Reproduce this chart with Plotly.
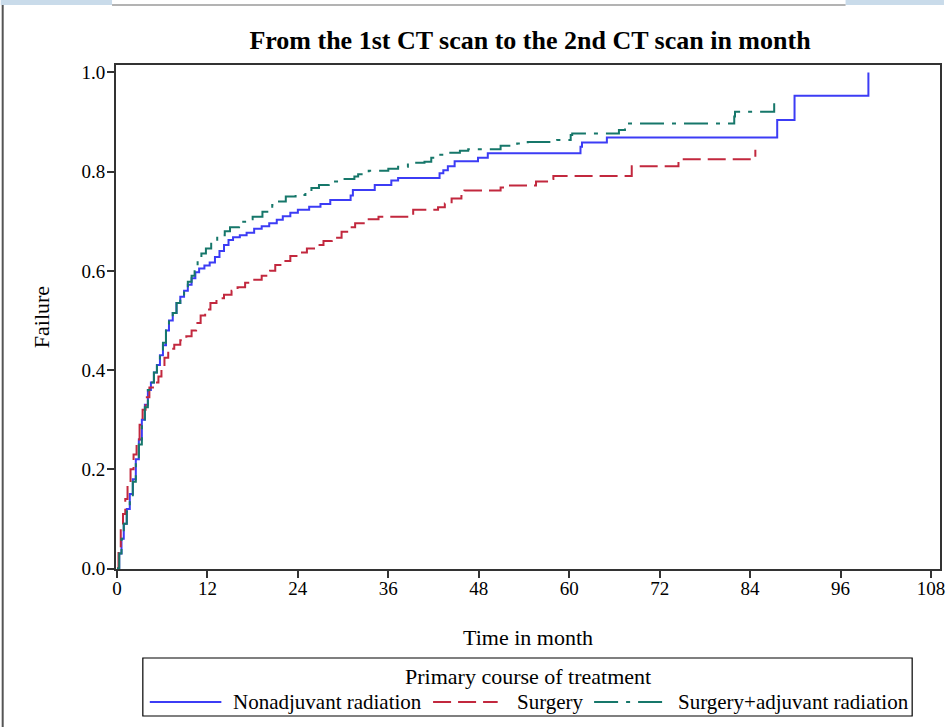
import plotly.graph_objects as go

# ---------------- data ----------------
nonadj_t = [0, 0.3, 0.6, 0.9, 1.3, 1.7, 2.1, 2.5, 2.9, 3.3, 3.7, 4.1, 4.5, 4.9, 5.3, 5.7,
            6.1, 6.5, 6.9, 7.4, 7.9, 8.4, 8.9, 9.4, 9.9, 10.4, 10.9, 11.6, 12.3, 13.0,
            13.6, 14.2, 14.8, 15.4, 16.3, 17.2, 18.2, 19.2, 20.2, 21.2, 22.0, 23.0, 24.0,
            25.5, 27.0, 28.3, 31.0, 31.3, 34.2, 36.4, 37.3, 42.8, 43.3, 43.9, 44.8, 47.9,
            49.2, 61.5, 61.7, 65.0, 87.6, 89.9, 99.7]
nonadj_f = [0, 0.03, 0.06, 0.09, 0.12, 0.15, 0.18, 0.22, 0.26, 0.30, 0.33, 0.36, 0.375,
            0.395, 0.41, 0.43, 0.45, 0.48, 0.50, 0.515, 0.535, 0.548, 0.56, 0.572, 0.585,
            0.597, 0.605, 0.611, 0.617, 0.628, 0.640, 0.652, 0.662, 0.668, 0.672, 0.677,
            0.685, 0.690, 0.696, 0.703, 0.710, 0.717, 0.723, 0.729, 0.735, 0.743, 0.752,
            0.763, 0.773, 0.782, 0.787, 0.797, 0.803, 0.811, 0.821, 0.828, 0.837, 0.850,
            0.859, 0.869, 0.904, 0.953, 1.0]

surg_t = [0, 0.2, 0.5, 0.8, 1.1, 1.4, 1.8, 2.2, 2.6, 3.0, 3.4, 3.8, 4.3, 5.0, 5.5, 5.9,
          6.3, 6.8, 7.6, 8.4, 9.2, 9.9, 10.5, 11.1, 11.7, 12.4, 13.2, 14.2, 15.2, 16.0,
          17.0, 18.0, 19.2, 20.3, 21.0, 22.0, 23.0, 24.0, 25.2, 26.3, 27.4, 28.5, 29.8,
          31.0, 31.6, 33.4, 34.7, 39.3, 42.6, 43.5, 44.4, 45.7, 46.1, 50.9, 52.0, 55.6,
          57.3, 57.9, 68.3, 74.5, 84.7]
surg_f = [0, 0.04, 0.08, 0.11, 0.14, 0.17, 0.20, 0.23, 0.26, 0.29, 0.32, 0.345, 0.365,
          0.375, 0.387, 0.405, 0.425, 0.443, 0.451, 0.460, 0.468, 0.480, 0.495, 0.510,
          0.522, 0.535, 0.545, 0.552, 0.560, 0.567, 0.576, 0.582, 0.590, 0.600, 0.612,
          0.620, 0.630, 0.637, 0.645, 0.652, 0.660, 0.667, 0.679, 0.688, 0.696, 0.704,
          0.709, 0.723, 0.728, 0.736, 0.746, 0.751, 0.762, 0.768, 0.772, 0.780, 0.785,
          0.791, 0.811, 0.825, 0.844]

surgadj_t = [0, 0.3, 0.6, 0.9, 1.3, 1.7, 2.1, 2.5, 2.9, 3.3, 3.7, 4.1, 4.5, 4.9, 5.3, 5.7,
             6.1, 6.5, 6.9, 7.4, 7.9, 8.4, 8.9, 9.4, 9.9, 10.3, 10.7, 11.2, 11.8, 12.5,
             13.3, 14.3, 15.0, 16.2, 17.0, 18.0, 19.3, 20.6, 21.5, 22.4, 23.7, 25.0, 25.8,
             26.8, 28.1, 30.0, 31.5, 32.0, 33.4, 36.0, 37.3, 38.6, 40.8, 41.7, 42.1, 43.5,
             45.5, 46.6, 50.9, 53.1, 54.5, 58.4, 60.2, 60.4, 66.6, 67.4, 81.9, 82.0, 87.2]
surgadj_f = [0, 0.03, 0.06, 0.09, 0.115, 0.145, 0.175, 0.21, 0.25, 0.29, 0.325, 0.36,
             0.375, 0.395, 0.415, 0.43, 0.455, 0.48, 0.50, 0.515, 0.535, 0.55, 0.565,
             0.578, 0.59, 0.607, 0.622, 0.635, 0.645, 0.660, 0.672, 0.680, 0.688, 0.699,
             0.704, 0.709, 0.719, 0.733, 0.740, 0.750, 0.753, 0.760, 0.767, 0.773, 0.780,
             0.785, 0.790, 0.795, 0.802, 0.806, 0.810, 0.818, 0.820, 0.828, 0.834, 0.838,
             0.842, 0.845, 0.852, 0.857, 0.860, 0.864, 0.874, 0.877, 0.884, 0.897, 0.911,
             0.921, 0.938]

series_names = ["Nonadjuvant radiation", "Surgery", "Surgery+adjuvant radiation"]
series_colors = ["#3C3CF5", "#C2283E", "#16776A"]
series_dash = ["solid", "18px,7px", "24px,8px,4px,8px"]
x_ticks = [0, 12, 24, 36, 48, 60, 72, 84, 96, 108]
y_ticks = [0.0, 0.2, 0.4, 0.6, 0.8, 1.0]

# ---------------- layout geometry (pixels) ----------------
W, H = 949, 727
L, R, T, B = 116, 945, 65, 569   # plot box edges


def px(x):
    return (x - L) / (R - L)


def py(y):
    return (B - y) / (B - T)


FONT = "Liberation Serif, Times New Roman, serif"

fig = go.Figure()
for t, f, name, col, dash in zip([nonadj_t, surg_t, surgadj_t],
                                 [nonadj_f, surg_f, surgadj_f],
                                 series_names, series_colors, series_dash):
    fig.add_trace(go.Scatter(x=t, y=f, mode="lines", name=name, showlegend=False,
                             line=dict(color=col, width=2, dash=dash, shape="hv")))

shapes = []
annotations = []

# legend (drawn manually, SAS style)
shapes.append(dict(type="rect", xref="paper", yref="paper",
                   x0=px(143), x1=px(917), y0=py(716), y1=py(658),
                   line=dict(color="#000000", width=1.2), fillcolor="rgba(0,0,0,0)"))
annotations.append(dict(text="Primary course of treatment", xref="paper", yref="paper",
                        x=px(530), y=py(676), xanchor="center", yanchor="middle",
                        showarrow=False, font=dict(family=FONT, size=22, color="#000")))
leg_line = [(150, 222), (435, 500), (597, 668)]
leg_text = [232, 517, 679]
for (a, b), tx, name, col, dash in zip(leg_line, leg_text, series_names,
                                       series_colors, series_dash):
    shapes.append(dict(type="line", xref="paper", yref="paper",
                       x0=px(a), x1=px(b), y0=py(702), y1=py(702),
                       line=dict(color=col, width=2, dash=dash)))
    annotations.append(dict(text=name, xref="paper", yref="paper", x=px(tx), y=py(702),
                            xanchor="left", yanchor="middle", showarrow=False,
                            font=dict(family=FONT, size=21, color="#000")))

# screenshot frame decorations
shapes.append(dict(type="rect", xref="paper", yref="paper", x0=px(0), x1=px(112),
                   y0=py(5), y1=py(0), line=dict(width=0), fillcolor="#C9DBEA", layer="below"))
shapes.append(dict(type="rect", xref="paper", yref="paper", x0=px(850), x1=px(949),
                   y0=py(5), y1=py(0), line=dict(width=0), fillcolor="#C9DBEA", layer="below"))
shapes.append(dict(type="line", xref="paper", yref="paper", x0=px(112), x1=px(850),
                   y0=py(5), y1=py(5), line=dict(color="#9A9A9A", width=1.5)))
shapes.append(dict(type="line", xref="paper", yref="paper", x0=px(2), x1=px(2),
                   y0=py(5), y1=py(727), line=dict(color="#555555", width=2)))

fig.update_layout(
    width=W, height=H,
    margin=dict(l=L, r=W - R, t=T, b=H - B, pad=0),
    paper_bgcolor="white", plot_bgcolor="white",
    title=dict(text="<b>From the 1st CT scan to the 2nd CT scan in month</b>",
               x=530 / W, xanchor="center",
               y=1 - 40 / H, yanchor="middle",
               font=dict(family=FONT, size=26, color="#000")),
    font=dict(family=FONT, color="#000"),
    shapes=shapes, annotations=annotations,
    showlegend=False,
)
fig.update_xaxes(range=[-0.13, 109.2], tickvals=x_ticks, ticks="outside", ticklen=7,
                 tickwidth=1.5, tickcolor="#333", showline=True, linecolor="#333",
                 linewidth=1.8, mirror=True, showgrid=False, zeroline=False,
                 ticklabelstandoff=-6,
                 tickfont=dict(family=FONT, size=19, color="#000"),
                 title=dict(text="Time in month", font=dict(family=FONT, size=22, color="#000"),
                            standoff=32))
fig.update_yaxes(range=[-0.001, 1.015], tickvals=y_ticks, tickformat=".1f", ticks="outside",
                 ticklen=7, tickwidth=1.5, tickcolor="#333", showline=True, linecolor="#333",
                 linewidth=1.8, mirror=True, showgrid=False, zeroline=False,
                 ticklabelstandoff=-2,
                 tickfont=dict(family=FONT, size=19, color="#000"),
                 title=dict(text="Failure", font=dict(family=FONT, size=22, color="#000"),
                            standoff=26))

fig.write_html("out.html")
